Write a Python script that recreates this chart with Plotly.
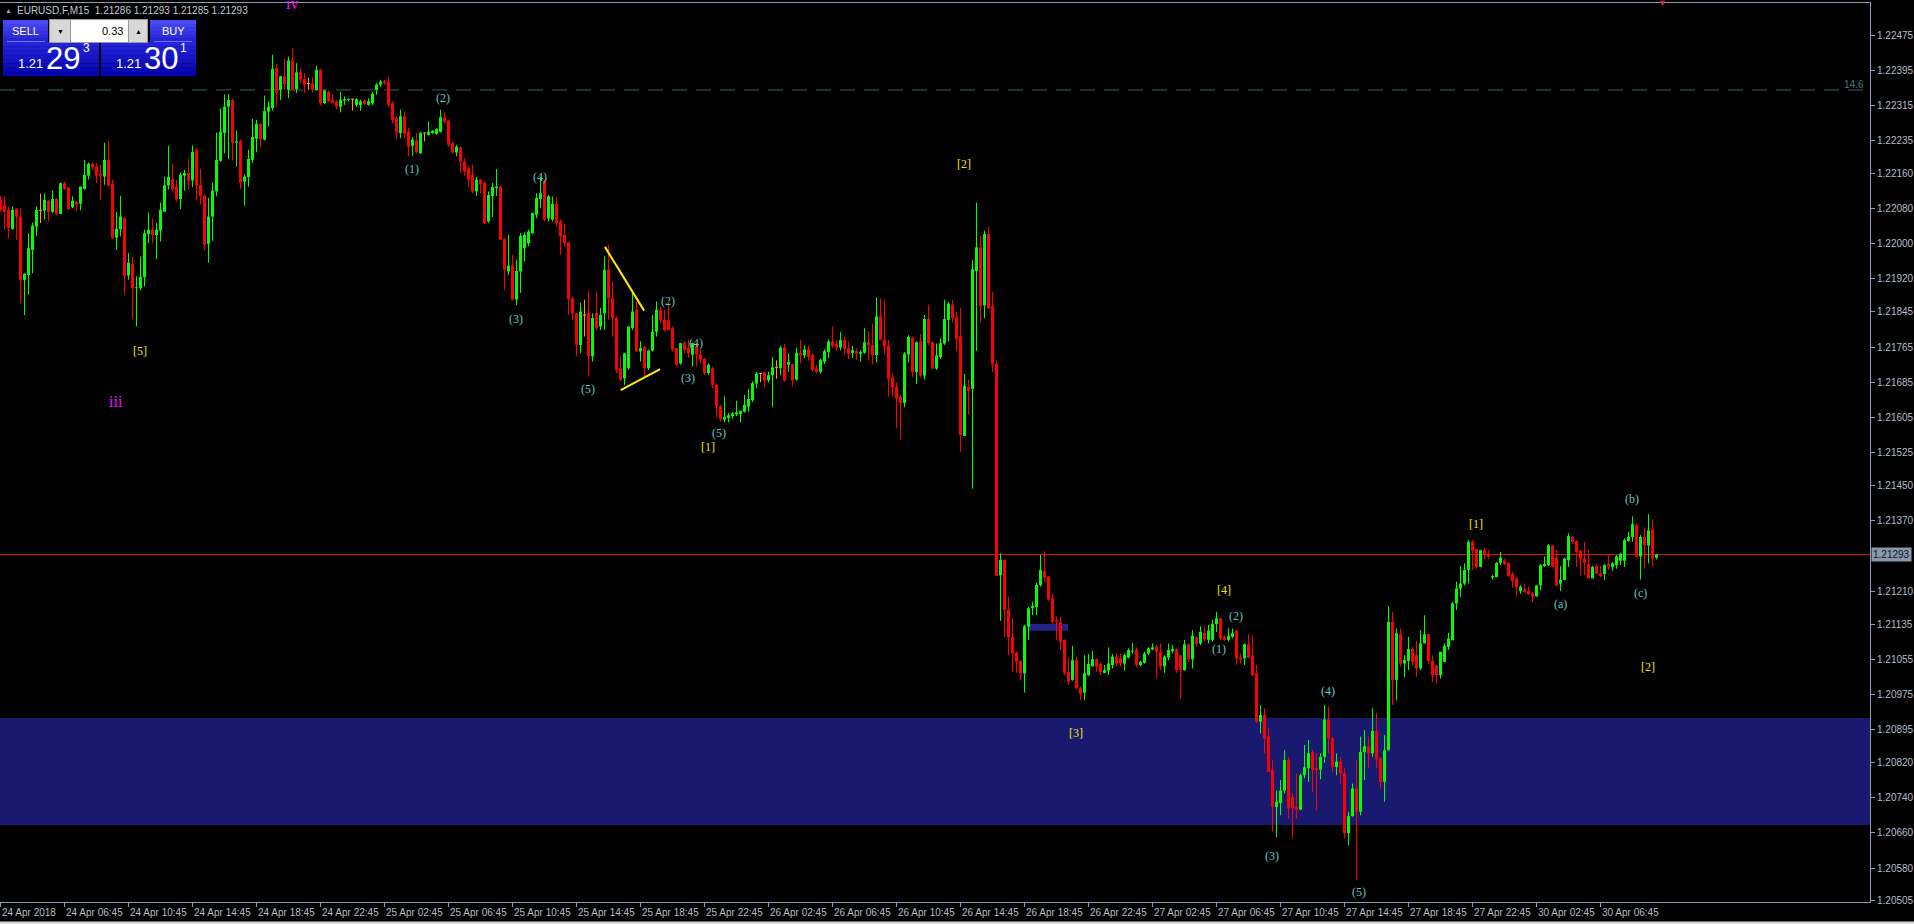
import plotly.graph_objects as go

# ---------------- data (EURUSD M15) ----------------
OPEN = [
 1.22100,1.22089,1.22077,1.22034,1.22080,1.22062,1.21918,1.21929,1.21986,1.22039,
 1.22076,1.22076,1.22098,1.22073,1.22102,1.22068,1.22138,1.22128,1.22083,1.22095,
 1.22091,1.22125,1.22155,1.22182,1.22176,1.22160,1.22153,1.22191,1.22136,1.22014,
 1.22033,1.22059,1.21928,1.21954,1.21899,1.21899,1.21924,1.22022,1.22032,1.22020,
 1.22030,1.22073,1.22133,1.22147,1.22130,1.22102,1.22155,1.22161,1.22144,1.22214,
 1.22134,1.22109,1.22000,1.22062,1.22119,1.22189,1.22252,1.22312,1.22327,1.22230,
 1.22233,1.22142,1.22152,1.22191,1.22239,1.22273,1.22237,1.22301,1.22309,1.22400,
 1.22350,1.22381,1.22350,1.22417,1.22352,1.22390,1.22375,1.22365,1.22365,1.22350,
 1.22396,1.22320,1.22346,1.22327,1.22324,1.22312,1.22326,1.22328,1.22329,1.22316,
 1.22316,1.22326,1.22316,1.22320,1.22350,1.22362,1.22369,1.22369,1.22320,1.22286,
 1.22252,1.22290,1.22255,1.22223,1.22235,1.22206,1.22252,1.22248,1.22252,1.22250,
 1.22255,1.22287,1.22280,1.22229,1.22208,1.22219,1.22187,1.22172,1.22157,1.22119,
 1.22146,1.22138,1.22051,1.22109,1.22127,1.22130,1.22011,1.21937,1.21951,1.21873,
 1.21937,1.21990,1.22001,1.22024,1.22066,1.22102,1.22142,1.22058,1.22055,1.22091,
 1.22051,1.22020,1.22003,1.21876,1.21842,1.21770,1.21838,1.21842,1.21744,1.21842,
 1.21812,1.21842,1.21941,1.21876,1.21831,1.21717,1.21694,1.21717,1.21808,1.21850,
 1.21755,1.21766,1.21717,1.21757,1.21800,1.21850,1.21827,1.21826,1.21808,1.21763,
 1.21728,1.21774,1.21763,1.21748,1.21766,1.21748,1.21738,1.21706,1.21717,1.21679,
 1.21630,1.21600,1.21604,1.21608,1.21612,1.21613,1.21618,1.21630,1.21644,1.21682,
 1.21705,1.21707,1.21689,1.21701,1.21719,1.21717,1.21764,1.21725,1.21726,1.21691,
 1.21752,1.21746,1.21760,1.21747,1.21716,1.21709,1.21732,1.21754,1.21778,1.21772,
 1.21764,1.21781,1.21762,1.21752,1.21756,1.21750,1.21752,1.21776,1.21770,1.21747,
 1.21835,1.21782,1.21768,1.21695,1.21675,1.21652,1.21638,1.21748,1.21786,1.21708,
 1.21778,1.21700,1.21829,1.21776,1.21716,1.21742,1.21773,1.21827,1.21862,1.21833,
 1.21790,1.21563,1.21674,1.21670,1.21938,1.21992,1.21860,1.22022,1.21858,1.21727,
 1.21246,1.21281,1.21167,1.21105,1.21070,1.21051,1.21023,1.21129,1.21171,1.21174,
 1.21224,1.21255,1.21243,1.21193,1.21144,1.21140,1.21099,1.21026,1.21008,1.21053,
 1.20989,1.20979,1.21019,1.21039,1.21055,1.21044,1.21024,1.21029,1.21042,1.21061,
 1.21057,1.21045,1.21059,1.21072,1.21077,1.21042,1.21047,1.21068,1.21077,1.21083,
 1.21072,1.21039,1.21059,1.21073,1.21077,1.21064,1.21030,1.21089,1.21055,1.21105,
 1.21091,1.21115,1.21099,1.21099,1.21135,1.21148,1.21106,1.21099,1.21106,1.21120,
 1.21059,1.21057,1.21089,1.21064,1.21023,1.20913,1.20928,1.20879,1.20803,1.20719,
 1.20728,1.20756,1.20826,1.20742,1.20719,1.20713,1.20791,1.20807,1.20844,1.20807,
 1.20804,1.20833,1.20918,1.20875,1.20810,1.20822,1.20795,1.20659,1.20698,1.20761,
 1.20708,1.20844,1.20857,1.20841,1.20892,1.20829,1.20776,1.20848,1.21140,1.21008,
 1.21113,1.21045,1.21051,1.21078,1.21064,1.21034,1.21091,1.21112,1.21051,1.21041,
 1.21019,1.21049,1.21083,1.21098,1.21182,1.21216,1.21227,1.21258,1.21322,1.21305,
 1.21265,1.21303,1.21295,1.21241,1.21242,1.21274,1.21280,1.21274,1.21249,1.21239,
 1.21210,1.21214,1.21210,1.21204,1.21198,1.21223,1.21267,1.21269,1.21314,1.21286,
 1.21227,1.21235,1.21280,1.21333,1.21324,1.21302,1.21284,1.21271,1.21239,1.21267,
 1.21250,1.21249,1.21271,1.21265,1.21269,1.21279,1.21279,1.21324,1.21333,1.21360,
 1.21289,1.21333,1.21314,1.21350,1.21286]

HIGH = [
 1.22109,1.22108,1.22085,1.22085,1.22081,1.22080,1.21933,1.22024,1.22048,1.22085,
 1.22114,1.22114,1.22100,1.22121,1.22104,1.22139,1.22142,1.22130,1.22108,1.22098,
 1.22130,1.22191,1.22185,1.22185,1.22183,1.22180,1.22230,1.22235,1.22146,1.22073,
 1.22109,1.22061,1.21979,1.21971,1.21926,1.21971,1.22032,1.22071,1.22057,1.22048,
 1.22094,1.22153,1.22223,1.22182,1.22146,1.22161,1.22168,1.22194,1.22224,1.22217,
 1.22171,1.22113,1.22104,1.22140,1.22253,1.22308,1.22340,1.22341,1.22331,1.22257,
 1.22237,1.22158,1.22214,1.22284,1.22282,1.22274,1.22337,1.22324,1.22430,1.22409,
 1.22382,1.22420,1.22426,1.22444,1.22411,1.22400,1.22388,1.22378,1.22379,1.22405,
 1.22397,1.22350,1.22349,1.22341,1.22327,1.22346,1.22335,1.22331,1.22331,1.22331,
 1.22328,1.22328,1.22331,1.22346,1.22365,1.22373,1.22373,1.22380,1.22324,1.22290,
 1.22305,1.22301,1.22263,1.22243,1.22252,1.22255,1.22253,1.22278,1.22259,1.22263,
 1.22305,1.22299,1.22282,1.22233,1.22225,1.22221,1.22195,1.22176,1.22180,1.22152,
 1.22147,1.22142,1.22119,1.22138,1.22170,1.22132,1.22013,1.22020,1.21975,1.21964,
 1.22024,1.22026,1.22032,1.22071,1.22115,1.22153,1.22146,1.22111,1.22108,1.22106,
 1.22055,1.22045,1.22005,1.21880,1.21842,1.21866,1.21873,1.21892,1.21842,1.21892,
 1.21854,1.21971,1.21998,1.21914,1.21835,1.21744,1.21751,1.21812,1.21888,1.21869,
 1.21778,1.21766,1.21759,1.21838,1.21869,1.21857,1.21850,1.21865,1.21812,1.21763,
 1.21774,1.21778,1.21782,1.21774,1.21774,1.21759,1.21740,1.21728,1.21721,1.21683,
 1.21634,1.21653,1.21615,1.21617,1.21643,1.21620,1.21656,1.21670,1.21687,1.21708,
 1.21705,1.21709,1.21709,1.21743,1.21735,1.21768,1.21772,1.21751,1.21727,1.21764,
 1.21781,1.21769,1.21768,1.21750,1.21724,1.21738,1.21760,1.21782,1.21812,1.21781,
 1.21799,1.21789,1.21778,1.21768,1.21762,1.21758,1.21808,1.21801,1.21819,1.21878,
 1.21876,1.21872,1.21781,1.21705,1.21685,1.21656,1.21754,1.21792,1.21789,1.21778,
 1.21795,1.21838,1.21862,1.21778,1.21773,1.21785,1.21873,1.21868,1.21872,1.21846,
 1.21854,1.21704,1.21691,1.21963,1.22094,1.22018,1.22030,1.22038,1.21890,1.21735,
 1.21296,1.21281,1.21197,1.21148,1.21072,1.21053,1.21133,1.21174,1.21186,1.21229,
 1.21292,1.21301,1.21244,1.21205,1.21152,1.21152,1.21100,1.21057,1.21085,1.21061,
 1.20993,1.21064,1.21067,1.21074,1.21057,1.21047,1.21042,1.21082,1.21067,1.21068,
 1.21068,1.21068,1.21080,1.21092,1.21082,1.21051,1.21072,1.21082,1.21091,1.21087,
 1.21091,1.21064,1.21091,1.21087,1.21080,1.21064,1.21099,1.21091,1.21121,1.21106,
 1.21130,1.21129,1.21133,1.21144,1.21163,1.21150,1.21110,1.21125,1.21125,1.21121,
 1.21068,1.21091,1.21112,1.21108,1.21042,1.20951,1.20943,1.20898,1.20826,1.20756,
 1.20780,1.20848,1.20833,1.20750,1.20795,1.20795,1.20860,1.20871,1.20848,1.20841,
 1.20841,1.20951,1.20947,1.20879,1.20841,1.20833,1.20808,1.20708,1.20772,1.20826,
 1.20879,1.20894,1.20879,1.20943,1.20933,1.20833,1.20882,1.21176,1.21163,1.21125,
 1.21125,1.21064,1.21106,1.21083,1.21097,1.21121,1.21155,1.21114,1.21064,1.21041,
 1.21072,1.21091,1.21115,1.21185,1.21231,1.21267,1.21273,1.21326,1.21326,1.21307,
 1.21303,1.21309,1.21303,1.21246,1.21276,1.21299,1.21284,1.21276,1.21254,1.21242,
 1.21223,1.21227,1.21221,1.21208,1.21223,1.21271,1.21289,1.21317,1.21314,1.21303,
 1.21267,1.21286,1.21341,1.21335,1.21326,1.21303,1.21322,1.21303,1.21267,1.21271,
 1.21267,1.21271,1.21292,1.21276,1.21292,1.21297,1.21330,1.21345,1.21380,1.21364,
 1.21337,1.21355,1.21385,1.21373,1.21294]

LOW = [
 1.22073,1.22032,1.22013,1.22032,1.22009,1.21865,1.21838,1.21884,1.21933,1.22017,
 1.22047,1.22055,1.22051,1.22070,1.22064,1.22068,1.22123,1.22077,1.22081,1.22075,
 1.22076,1.22123,1.22146,1.22168,1.22138,1.22100,1.22134,1.22130,1.22011,1.21986,
 1.22017,1.21884,1.21918,1.21829,1.21812,1.21894,1.21903,1.22001,1.22001,1.21965,
 1.22005,1.22073,1.22123,1.22119,1.22096,1.22079,1.22121,1.22123,1.22129,1.22098,
 1.22089,1.21985,1.21957,1.22007,1.22108,1.22186,1.22206,1.22193,1.22189,1.22176,
 1.22125,1.22087,1.22130,1.22183,1.22208,1.22219,1.22235,1.22267,1.22303,1.22312,
 1.22327,1.22350,1.22331,1.22350,1.22343,1.22364,1.22343,1.22350,1.22344,1.22349,
 1.22315,1.22318,1.22322,1.22320,1.22306,1.22299,1.22316,1.22324,1.22303,1.22312,
 1.22303,1.22316,1.22314,1.22316,1.22339,1.22358,1.22362,1.22312,1.22274,1.22238,
 1.22240,1.22240,1.22199,1.22200,1.22206,1.22205,1.22233,1.22246,1.22250,1.22248,
 1.22253,1.22274,1.22221,1.22205,1.22199,1.22162,1.22155,1.22129,1.22115,1.22109,
 1.22115,1.22045,1.22048,1.22061,1.22109,1.22008,1.21894,1.21929,1.21871,1.21861,
 1.21888,1.21960,1.21995,1.22023,1.22058,1.22081,1.22051,1.22051,1.22051,1.22039,
 1.21975,1.21994,1.21838,1.21827,1.21744,1.21751,1.21789,1.21698,1.21732,1.21804,
 1.21804,1.21804,1.21827,1.21789,1.21706,1.21687,1.21679,1.21713,1.21804,1.21755,
 1.21732,1.21698,1.21713,1.21755,1.21789,1.21819,1.21800,1.21803,1.21755,1.21721,
 1.21725,1.21751,1.21740,1.21721,1.21721,1.21728,1.21702,1.21702,1.21672,1.21605,
 1.21596,1.21594,1.21594,1.21602,1.21608,1.21594,1.21616,1.21618,1.21640,1.21671,
 1.21685,1.21673,1.21685,1.21628,1.21693,1.21701,1.21686,1.21709,1.21675,1.21689,
 1.21728,1.21740,1.21734,1.21709,1.21705,1.21704,1.21727,1.21740,1.21764,1.21756,
 1.21758,1.21748,1.21738,1.21740,1.21736,1.21732,1.21750,1.21734,1.21726,1.21730,
 1.21781,1.21748,1.21652,1.21652,1.21581,1.21555,1.21628,1.21730,1.21697,1.21681,
 1.21697,1.21691,1.21770,1.21716,1.21713,1.21738,1.21770,1.21778,1.21821,1.21756,
 1.21527,1.21563,1.21612,1.21443,1.21756,1.21821,1.21831,1.21851,1.21708,1.21244,
 1.21142,1.21106,1.21064,1.21026,1.21024,1.21008,1.20979,1.21099,1.21155,1.21155,
 1.21220,1.21231,1.21188,1.21136,1.21099,1.21076,1.21019,1.20996,1.21006,1.20986,
 1.20962,1.20961,1.21017,1.21038,1.21026,1.21019,1.21023,1.21019,1.21034,1.21039,
 1.21038,1.21029,1.21057,1.21068,1.21036,1.21039,1.21045,1.21064,1.21076,1.21011,
 1.21030,1.21024,1.21053,1.21068,1.21024,1.20966,1.21029,1.21049,1.21034,1.21082,
 1.21087,1.21095,1.21091,1.21095,1.21117,1.21099,1.21097,1.21095,1.21102,1.21042,
 1.21045,1.21042,1.21057,1.21017,1.20910,1.20886,1.20841,1.20799,1.20663,1.20650,
 1.20700,1.20750,1.20693,1.20647,1.20693,1.20712,1.20784,1.20776,1.20753,1.20712,
 1.20782,1.20819,1.20841,1.20799,1.20791,1.20772,1.20647,1.20632,1.20697,1.20553,
 1.20700,1.20780,1.20807,1.20833,1.20807,1.20761,1.20731,1.20848,1.20951,1.20961,
 1.21038,1.21015,1.21030,1.21041,1.21015,1.21030,1.21091,1.21045,1.21003,1.20999,
 1.21011,1.21049,1.21076,1.21098,1.21167,1.21197,1.21223,1.21227,1.21258,1.21261,
 1.21265,1.21282,1.21284,1.21236,1.21241,1.21269,1.21269,1.21242,1.21218,1.21197,
 1.21204,1.21206,1.21201,1.21185,1.21197,1.21212,1.21265,1.21267,1.21264,1.21221,
 1.21210,1.21235,1.21265,1.21318,1.21265,1.21246,1.21246,1.21239,1.21239,1.21249,
 1.21241,1.21235,1.21258,1.21256,1.21261,1.21269,1.21265,1.21322,1.21322,1.21286,
 1.21236,1.21261,1.21273,1.21265,1.21282]

CLOSE = [
 1.22077,1.22073,1.22036,1.22077,1.22062,1.21918,1.21932,1.21990,1.22041,1.22077,
 1.22076,1.22100,1.22073,1.22102,1.22068,1.22138,1.22125,1.22079,1.22098,1.22089,
 1.22130,1.22157,1.22182,1.22174,1.22155,1.22155,1.22191,1.22133,1.22013,1.22034,
 1.22062,1.21927,1.21957,1.21899,1.21901,1.21925,1.22024,1.22032,1.22020,1.22032,
 1.22077,1.22133,1.22152,1.22124,1.22101,1.22157,1.22161,1.22143,1.22209,1.22133,
 1.22108,1.21998,1.22062,1.22121,1.22191,1.22255,1.22312,1.22327,1.22230,1.22233,
 1.22139,1.22153,1.22193,1.22243,1.22273,1.22238,1.22302,1.22312,1.22398,1.22344,
 1.22381,1.22364,1.22417,1.22350,1.22390,1.22373,1.22362,1.22365,1.22352,1.22396,
 1.22320,1.22349,1.22324,1.22321,1.22312,1.22328,1.22329,1.22330,1.22329,1.22329,
 1.22324,1.22318,1.22324,1.22341,1.22362,1.22369,1.22365,1.22316,1.22282,1.22253,
 1.22290,1.22250,1.22221,1.22237,1.22208,1.22252,1.22252,1.22255,1.22257,1.22261,
 1.22288,1.22278,1.22225,1.22208,1.22221,1.22187,1.22164,1.22146,1.22119,1.22146,
 1.22136,1.22047,1.22111,1.22129,1.22130,1.22009,1.21941,1.21950,1.21873,1.21938,
 1.22018,1.22020,1.22028,1.22070,1.22104,1.22115,1.22055,1.22108,1.22091,1.22047,
 1.22017,1.22001,1.21874,1.21842,1.21770,1.21846,1.21838,1.21744,1.21831,1.21808,
 1.21838,1.21941,1.21876,1.21831,1.21713,1.21691,1.21751,1.21812,1.21846,1.21755,
 1.21763,1.21717,1.21757,1.21800,1.21850,1.21827,1.21804,1.21804,1.21759,1.21725,
 1.21774,1.21759,1.21751,1.21774,1.21748,1.21736,1.21706,1.21725,1.21679,1.21630,
 1.21602,1.21606,1.21610,1.21614,1.21617,1.21620,1.21634,1.21647,1.21683,1.21705,
 1.21705,1.21689,1.21701,1.21719,1.21719,1.21764,1.21689,1.21731,1.21689,1.21752,
 1.21746,1.21760,1.21743,1.21713,1.21709,1.21736,1.21756,1.21778,1.21768,1.21764,
 1.21781,1.21761,1.21750,1.21758,1.21750,1.21754,1.21776,1.21769,1.21747,1.21835,
 1.21782,1.21766,1.21693,1.21673,1.21648,1.21638,1.21750,1.21788,1.21708,1.21776,
 1.21700,1.21829,1.21774,1.21716,1.21746,1.21774,1.21829,1.21864,1.21831,1.21784,
 1.21565,1.21677,1.21665,1.21942,1.21992,1.21858,1.22022,1.21853,1.21726,1.21245,
 1.21281,1.21167,1.21105,1.21068,1.21049,1.21023,1.21130,1.21171,1.21176,1.21224,
 1.21258,1.21241,1.21191,1.21140,1.21140,1.21095,1.21024,1.21004,1.21053,1.20989,
 1.20976,1.21023,1.21044,1.21055,1.21038,1.21026,1.21030,1.21045,1.21061,1.21045,
 1.21045,1.21064,1.21076,1.21074,1.21042,1.21049,1.21068,1.21080,1.21082,1.21072,
 1.21039,1.21061,1.21076,1.21078,1.21030,1.21030,1.21089,1.21055,1.21108,1.21089,
 1.21117,1.21100,1.21120,1.21135,1.21148,1.21102,1.21099,1.21108,1.21114,1.21057,
 1.21055,1.21089,1.21059,1.21019,1.20913,1.20928,1.20875,1.20799,1.20719,1.20731,
 1.20756,1.20826,1.20716,1.20716,1.20713,1.20791,1.20809,1.20841,1.20803,1.20803,
 1.20833,1.20918,1.20875,1.20810,1.20822,1.20795,1.20659,1.20698,1.20761,1.20708,
 1.20844,1.20857,1.20841,1.20892,1.20827,1.20776,1.20848,1.21140,1.21008,1.21114,
 1.21045,1.21053,1.21078,1.21049,1.21034,1.21091,1.21112,1.21051,1.21019,1.21019,
 1.21072,1.21085,1.21102,1.21182,1.21216,1.21227,1.21258,1.21322,1.21302,1.21265,
 1.21303,1.21292,1.21289,1.21244,1.21274,1.21286,1.21271,1.21244,1.21233,1.21218,
 1.21220,1.21208,1.21203,1.21197,1.21223,1.21269,1.21271,1.21314,1.21265,1.21223,
 1.21236,1.21284,1.21335,1.21322,1.21299,1.21284,1.21274,1.21239,1.21265,1.21250,
 1.21244,1.21269,1.21265,1.21273,1.21289,1.21295,1.21326,1.21333,1.21362,1.21288,
 1.21333,1.21314,1.21348,1.21284,1.21293]

assert len(OPEN) == len(HIGH) == len(LOW) == len(CLOSE), (len(OPEN), len(HIGH), len(LOW), len(CLOSE))

TIME_TICK_BARS = [0, 16, 32, 48, 64, 80, 96, 112, 128, 144, 160, 176, 192,
                  208, 224, 240, 256, 272, 288, 304, 320, 336, 352, 368, 384, 400]
TIME_TICK_LABELS = ["24 Apr 2018", "24 Apr 06:45", "24 Apr 10:45", "24 Apr 14:45", "24 Apr 18:45",
                    "24 Apr 22:45", "25 Apr 02:45", "25 Apr 06:45", "25 Apr 10:45", "25 Apr 14:45",
                    "25 Apr 18:45", "25 Apr 22:45", "26 Apr 02:45", "26 Apr 06:45", "26 Apr 10:45",
                    "26 Apr 14:45", "26 Apr 18:45", "26 Apr 22:45", "27 Apr 02:45", "27 Apr 06:45",
                    "27 Apr 10:45", "27 Apr 14:45", "27 Apr 18:45", "27 Apr 22:45", "30 Apr 02:45",
                    "30 Apr 06:45"]
PRICE_TICKS = [1.22475, 1.22395, 1.22315, 1.22235, 1.22160, 1.22080, 1.22000, 1.21920,
               1.21845, 1.21765, 1.21685, 1.21605, 1.21525, 1.21450, 1.21370, 1.21210,
               1.21135, 1.21055, 1.20975, 1.20895, 1.20820, 1.20740, 1.20660, 1.20580, 1.20505]

BID = 1.21293
HEADER = "EURUSD.F,M15\u00a0\u00a01.21286 1.21293 1.21285 1.21293"
LOT = "0.33"
SELL_PRICE = ("1.21", "29", "3")
BUY_PRICE = ("1.21", "30", "1")

# Elliott wave labels: (bar position, price, text, kind)
WAVE_LABELS = [
    (28.9, 1.21642, "iii", "deg"), (34.9, 1.21756, "[5]", "major"),
    (102.9, 1.22170, "(1)", "minor"), (110.6, 1.22332, "(2)", "minor"), (128.9, 1.21829, "(3)", "minor"),
    (134.9, 1.22152, "(4)", "minor"), (146.9, 1.21670, "(5)", "minor"), (166.9, 1.21870, "(2)", "minor"),
    (171.9, 1.21695, "(3)", "minor"), (173.9, 1.21774, "(4)", "minor"), (179.6, 1.21570, "(5)", "minor"),
    (176.9, 1.21538, "[1]", "major"), (240.9, 1.22182, "[2]", "major"), (268.9, 1.20887, "[3]", "major"),
    (305.9, 1.21212, "[4]", "major"), (308.9, 1.21153, "(2)", "minor"), (304.6, 1.21078, "(1)", "minor"),
    (317.9, 1.20607, "(3)", "minor"), (331.9, 1.20983, "(4)", "minor"), (339.6, 1.20525, "(5)", "minor"),
    (368.9, 1.21363, "[1]", "major"), (389.9, 1.21181, "(a)", "minor"), (407.9, 1.21419, "(b)", "minor"),
    (409.9, 1.21206, "(c)", "minor"), (411.9, 1.21037, "[2]", "major"),
]
# label sitting on the top edge of the window (bar position, text)
TOP_LABEL = (72.9, "iv")
# trend lines of the triangle: (bar0, price0, bar1, price1)
TRENDLINES = [(151.1, 1.21993, 160.9, 1.21848), (155.05, 1.21667, 164.9, 1.21715)]
ZONE_WIDE = (1.20678, 1.20921)
ZONE_SMALL = (256.9, 266.9, 1.21120, 1.21135)
LEVEL = 1.22350
LEVEL_TEXT = "14.6"

# ---------------- styling ----------------
BG = "#000000"
UP = "#00ff00"
DOWN = "#ff0000"
DOJI = "#ff9a1a"
AXIS = "#8c9bb0"
AXIS_TEXT = "#b4bcc8"
TEAL = "#62c6c0"
GOLD = "#f2e600"
MAGENTA = "#ee10ff"

W, H = 1914, 924
W_PLOT, Y_TOP, Y_BOT = 1870, 3, 902


def px(x):
    return x / W_PLOT


def py(y):
    return (Y_BOT - y) / (Y_BOT - Y_TOP)


idx = list(range(len(CLOSE)))
up = [i for i in idx if CLOSE[i] > OPEN[i]]
dn = [i for i in idx if CLOSE[i] < OPEN[i]]
dj = [i for i in idx if CLOSE[i] == OPEN[i]]


def bodies(ids, color):
    return go.Bar(x=ids, base=[min(OPEN[i], CLOSE[i]) for i in ids],
                  y=[abs(CLOSE[i] - OPEN[i]) for i in ids], width=0.75,
                  marker=dict(color=color, line=dict(width=0)), hoverinfo="skip")


def wicks(ids, color):
    xs, ys = [], []
    for i in ids:
        xs += [i, i, None]
        ys += [min(LOW[i], OPEN[i], CLOSE[i]), max(HIGH[i], OPEN[i], CLOSE[i]), None]
    return go.Scatter(x=xs, y=ys, mode="lines", line=dict(color=color, width=1), hoverinfo="skip")


def doji_ticks(ids, color):
    xs, ys = [], []
    for i in ids:
        xs += [i - 0.375, i + 0.375, None]
        ys += [CLOSE[i], CLOSE[i], None]
    return go.Scatter(x=xs, y=ys, mode="lines", line=dict(color=color, width=1), hoverinfo="skip")


fig = go.Figure()
fig.add_trace(wicks(up, UP))
fig.add_trace(wicks(dn, DOWN))
fig.add_trace(wicks(dj, DOJI))
fig.add_trace(bodies(up, UP))
fig.add_trace(bodies(dn, DOWN))
fig.add_trace(doji_ticks(dj, DOJI))

shapes = []
shapes.append(dict(type="rect", xref="paper", yref="y", x0=0, x1=1, y0=ZONE_WIDE[0], y1=ZONE_WIDE[1],
                   fillcolor="#191970", line=dict(width=0), layer="below"))
shapes.append(dict(type="rect", xref="x", yref="y", x0=ZONE_SMALL[0], x1=ZONE_SMALL[1],
                   y0=ZONE_SMALL[2], y1=ZONE_SMALL[3], fillcolor="#23238a", line=dict(width=0), layer="below"))
shapes.append(dict(type="line", xref="paper", yref="y", x0=0, x1=px(1866), y0=LEVEL, y1=LEVEL,
                   line=dict(color="#365c5c", width=1, dash="15px,9px"), layer="below"))
shapes.append(dict(type="line", xref="paper", yref="y", x0=0, x1=1, y0=BID, y1=BID,
                   line=dict(color="#cc2222", width=1), layer="below"))
for b0, p0, b1, p1 in TRENDLINES:
    shapes.append(dict(type="line", xref="x", yref="y", x0=b0, y0=p0, x1=b1, y1=p1,
                       line=dict(color="#ffee00", width=2), layer="above"))


def rect(x0, y0, x1, y1, color, line=None):
    return dict(type="rect", xref="paper", yref="paper", x0=px(x0), x1=px(x1), y0=py(y1), y1=py(y0),
                fillcolor=color, line=dict(width=0) if line is None else dict(color=line, width=1),
                layer="above")


def mix(c1, c2, t):
    a = [int(c1[k:k + 2], 16) for k in (1, 3, 5)]
    b = [int(c2[k:k + 2], 16) for k in (1, 3, 5)]
    return "#%02x%02x%02x" % tuple(round(a[j] + (b[j] - a[j]) * t) for j in range(3))


def gradient(x0, y0, x1, y1, ctop, cbot, n=6):
    out = []
    hgt = (y1 - y0) / n
    for k in range(n):
        out.append(rect(x0, y0 + k * hgt, x1, y0 + (k + 1) * hgt + 0.3, mix(ctop, cbot, k / (n - 1))))
    return out


# one-click trading panel
shapes += gradient(3, 20, 48, 42, "#4a4af4", "#2424d8")
shapes += gradient(150, 20, 196, 42, "#4a4af4", "#2424d8")
shapes += gradient(3, 42, 99, 76, "#2424dc", "#0404ac", 8)
shapes += gradient(101, 42, 196, 76, "#2424dc", "#0404ac", 8)
shapes.append(rect(7, 41, 45, 41.8, "#8c8cff"))
shapes.append(rect(154, 41, 192, 41.8, "#8c8cff"))
shapes.append(rect(49, 19, 148, 43, "#9a9a9a"))
shapes.append(rect(50, 20, 70, 42, "#d8d8d8"))
shapes.append(rect(71, 20, 128, 42, "#ffffff"))
shapes.append(rect(129, 20, 147, 42, "#d8d8d8"))
shapes.append(rect(0, 921.5, 1914, 925, "#d6d6d6"))

ann = []
for b, lab in zip(TIME_TICK_BARS, TIME_TICK_LABELS):
    ann.append(dict(x=b, xref="x", y=py(912), yref="paper", text=lab, showarrow=False,
                    xanchor="left", yanchor="middle", xshift=-1,
                    font=dict(family="Liberation Sans", size=10, color=AXIS_TEXT)))

ann.append(dict(x=1, xref="paper", y=BID, yref="y", text="1.21293", showarrow=False, xanchor="left",
                yanchor="middle", xshift=1, bgcolor="#8898aa", borderpad=1,
                font=dict(family="Liberation Sans", size=10, color="#0e1622")))
ann.append(dict(x=px(1866), xref="paper", y=LEVEL, yref="y", text=LEVEL_TEXT, showarrow=False,
                xanchor="right", yanchor="bottom", yshift=-2,
                font=dict(family="Liberation Sans", size=10, color="#4b7474")))

style = {"minor": (TEAL, 12, "Liberation Serif"), "major": (GOLD, 12, "Liberation Serif"),
         "deg": (MAGENTA, 16, "Liberation Serif")}
for b, p, t, kind in WAVE_LABELS:
    col, sz, fam = style[kind]
    ann.append(dict(x=b, xref="x", y=p, yref="y", text=t, showarrow=False, xanchor="center",
                    yanchor="middle", font=dict(family=fam, size=sz, color=col)))
ann.append(dict(x=TOP_LABEL[0], xref="x", y=py(3), yref="paper", text=TOP_LABEL[1], showarrow=False,
                xanchor="center", yanchor="middle", font=dict(family="Liberation Serif", size=16, color=MAGENTA)))

# small sell arrow at the top right
ann.append(dict(x=415.5, xref="x", y=py(3.5), yref="paper", text="\u25bc", showarrow=False,
                xanchor="center", yanchor="middle", font=dict(size=9, color="#c03636")))

ann.append(dict(x=px(3), xref="paper", y=py(11), yref="paper", text="\u25b2", showarrow=False,
                xanchor="left", yanchor="middle", font=dict(family="Liberation Sans", size=7, color="#9aa4b2")))
ann.append(dict(x=px(15), xref="paper", y=py(10.5), yref="paper", text=HEADER, showarrow=False,
                xanchor="left", yanchor="middle", font=dict(family="Liberation Sans", size=10, color="#c2c8d2")))
panel_txt = [
    (25.5, 31, "SELL", 11, "#ffffff", "center"), (173, 31, "BUY", 11, "#ffffff", "center"),
    (60, 31, "\u25bc", 7, "#000000", "center"), (138, 31, "\u25b2", 7, "#000000", "center"),
]
for x, y, t, sz, col, anc in panel_txt:
    ann.append(dict(x=px(x), xref="paper", y=py(y), yref="paper", text=t, showarrow=False,
                    xanchor=anc, yanchor="middle", font=dict(family="Liberation Sans", size=sz, color=col)))
ann.append(dict(x=px(125), xref="paper", y=py(31), yref="paper", text=LOT, showarrow=False,
                xanchor="right", yanchor="middle", font=dict(family="Liberation Sans", size=11, color="#000000")))
for (small, big, sup), (x_small, x_big, x_sup) in ((SELL_PRICE, (16, 44, 81)), (BUY_PRICE, (114, 142, 178))):
    ann.append(dict(x=px(x_small), xref="paper", y=py(64), yref="paper", text=small, showarrow=False,
                    xanchor="left", yanchor="middle",
                    font=dict(family="Liberation Sans", size=13, color="#ffffff")))
    ann.append(dict(x=px(x_big), xref="paper", y=py(58), yref="paper", text=big, showarrow=False,
                    xanchor="left", yanchor="middle",
                    font=dict(family="Liberation Sans", size=31, color="#ffffff")))
    ann.append(dict(x=px(x_sup), xref="paper", y=py(48), yref="paper", text=sup, showarrow=False,
                    xanchor="left", yanchor="middle",
                    font=dict(family="Liberation Sans", size=12, color="#ffffff")))

fig.update_layout(
    width=W, height=H, margin=dict(l=0, r=W - W_PLOT, t=Y_TOP, b=H - Y_BOT),
    paper_bgcolor=BG, plot_bgcolor=BG, showlegend=False, barmode="overlay",
    font=dict(family="Liberation Sans", size=10, color=AXIS_TEXT),
    shapes=shapes, annotations=ann, hovermode=False,
)
fig.update_xaxes(range=[-0.125, W_PLOT / 4 - 0.125], showgrid=False, zeroline=False, showline=True,
                 linecolor=AXIS, linewidth=1, mirror=True, ticks="outside", ticklen=4, tickcolor=AXIS,
                 tickvals=TIME_TICK_BARS, showticklabels=False, fixedrange=True)
fig.update_yaxes(side="right", range=[1.205027, 1.225478], showgrid=False, zeroline=False, showline=True,
                 linecolor=AXIS, linewidth=1, ticks="outside", ticklen=4, tickcolor=AXIS,
                 tickvals=PRICE_TICKS, ticktext=["%.5f" % v for v in PRICE_TICKS],
                 tickfont=dict(family="Liberation Sans", size=10, color=AXIS_TEXT), fixedrange=True)

fig.write_html("out.html", config={"displayModeBar": False, "staticPlot": True},
               post_script="document.body.style.margin='0';document.body.style.overflow='hidden';")
